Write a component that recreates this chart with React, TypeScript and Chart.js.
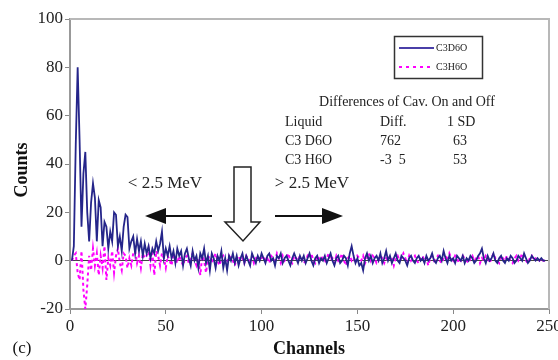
import React, { useEffect, useRef } from "react";
import { Chart, registerables } from "chart.js";

Chart.register(...registerables);

// Channel numbers start at 1 and advance by one per value.
const CHANNEL_START = 1;

const C3D6O: number[] = [
  0, 6, 48, 80, 50, 14, 36, 45, 20, 8,
  24, 32, 26, 8, 25, 22, 6, 16, 14, 5,
  12, 8, 20, 19, 6, 10, 4, 14, 19, 18,
  5, 8, 10, 3, 9, 4, 8, 2, 7, 3,
  6, 1, 5, 3, 8, 4, 7, 12, 1, 5,
  2, 6, 1, 4, -1, 5, 2, 4, -2, 3,
  5, 1, -2, 4, 0, 2, -3, 3, 1, 5,
  -1, 2, -4, 3, 1, -3, 2, 0, 4, -3,
  1, -4, 2, 0, 3, -1, 2, -2, 1, 3,
  -1, 2, 0, -2, 3, 1, -1, 2, 0, 3,
  1, -1, 2, 3, 0, 1, -2, 2, 1, 3,
  -1, 1, 2, 0, -2, 1, 3, 1, -1, 2,
  0, 2, -1, 1, 3, 0, -2, 1, 2, -1,
  1, 0, 2, -1, 1, 3, 0, -2, 1, 2,
  -1, 0, 2, 1, -2, 3, 6, 2, -1, 1,
  -2, -1, -4, 1, 3, 0, 2, -1, 1, 2,
  0, 3, -1, 1, 4, 0, 2, -1, 1, 3,
  0, -1, 2, 1, 0, -2, 1, 2, 0, -1,
  1, 2, 0, 1, -1, 2, 0, 1, 3, 0,
  -1, 1, 2, 0, 4, 1, -1, 2, 0, 1,
  -1, 2, 1, 0, 2, -1, 1, 0, 2, 1,
  -1, 0, 2, 3, 5, 1, -1, 2, 0, 1,
  3, 0, -1, 1, 2, 0, -1, 1, 0, 2,
  1, -1, 0, 2, 1, 0, 3, 1, -1, 0,
  2, 1, 0, 1, 0, 1, 0, 0,
];

const C3H6O: number[] = [
  0, 2, 3, -5, -8, 4, -12, -20, -10, 2,
  -4, 5, -2, 3, -6, 2, -3, 6, -8, 1,
  -2, 4, -5, 2, 5, -1, -4, 3, 2, -3,
  1, -2, 3, 4, -1, 2, -3, 3, 1, 2,
  5, -2, 3, -6, 4, 2, -2, 3, 1, -3,
  2, 0, -2, 3, 1, -1, 2, 0, -2, 1,
  2, -1, 1, 3, 0, -2, 1, -6, 2, 0,
  -5, 1, 2, -1, 1, 3, 0, -2, 1, 2,
  0, -1, 2, 1, 0, -2, 1, 2, 0, 1,
  -1, 2, 1, 0, 2, -1, 1, 2, 0, 1,
  2, 0, 1, -1, 2, 1, 0, 3, 1, -1,
  2, 0, 1, 3, 0, -1, 2, 1, 0, 2,
  1, -1, 0, 2, 1, 3, 0, -1, 2, 1,
  0, 2, -1, 1, 3, 0, 1, -1, 2, 0,
  1, 3, 0, -2, 1, 2, 0, 1, -1, 2,
  1, 0, 2, -1, 1, 3, 0, 2, 1, -1,
  0, 2, 1, -1, 1, 0, 2, 1, -2, 1,
  2, 0, 1, 3, 1, -1, 2, 0, 1, 2,
  0, -1, 1, 2, 0, 1, -2, 1, 2, 0,
  1, 2, 0, -1, 1, 2, 0, 3, 1, 0,
  2, 1, -1, 0, 2, 1, 0, -1, 1, 2,
  0, 1, 2, -1, 1, 0, 2, 1, -1, 1,
  3, 1, 0, -1, 2, 1, 0, 2, 1, 0,
  -1, 1, 2, 0, 1, 3, 1, 0, -1, 1,
  2, 0, 1, 1, 0, 1, 0, 0,
];

const X_MIN = 0;
const X_MAX = 250;
const X_STEP = 50;
const Y_MIN = -20;
const Y_MAX = 100;
const Y_STEP = 20;

const TABLE_TITLE = "Differences of Cav. On and Off";
const TABLE_HEADER = ["Liquid", "Diff.", "1 SD"];
const TABLE_ROWS = [
  ["C3 D6O", "762", "63"],
  ["C3 H6O", "-3  5", "53"],
];

const SERIF = "'Liberation Serif', 'Times New Roman', serif";

const toPoints = (vals: number[]) =>
  vals.map((v, i) => ({ x: CHANNEL_START + i, y: v }));

const decorPlugin = {
  id: "decor",
  afterDraw(chart: any) {
    const ctx = chart.ctx as CanvasRenderingContext2D;
    const a = chart.chartArea;
    ctx.save();
    // top & right frame
    ctx.strokeStyle = "#b8b8b8";
    ctx.lineWidth = 2;
    ctx.beginPath();
    ctx.moveTo(a.left, a.top);
    ctx.lineTo(a.right, a.top);
    ctx.lineTo(a.right, a.bottom);
    ctx.stroke();

    // legend box
    ctx.strokeStyle = "#333";
    ctx.lineWidth = 1.5;
    ctx.strokeRect(394.5, 36.5, 88, 42);
    ctx.lineWidth = 2;
    ctx.strokeStyle = "#4a3fa8";
    ctx.beginPath();
    ctx.moveTo(399, 48);
    ctx.lineTo(434, 48);
    ctx.stroke();
    ctx.strokeStyle = "#ff00ff";
    ctx.setLineDash([3, 4]);
    ctx.beginPath();
    ctx.moveTo(399, 67);
    ctx.lineTo(434, 67);
    ctx.stroke();
    ctx.setLineDash([]);
    ctx.fillStyle = "#222";
    ctx.font = `10px ${SERIF}`;
    ctx.textAlign = "left";
    ctx.textBaseline = "middle";
    ctx.fillText("C3D6O", 436, 48);
    ctx.fillText("C3H6O", 436, 67);

    // table
    ctx.font = `14px ${SERIF}`;
    ctx.textAlign = "center";
    ctx.fillText(TABLE_TITLE, 407, 102);
    const colX = [285, 380, 447];
    const rowY = [122, 141, 160];
    ctx.textAlign = "left";
    TABLE_HEADER.forEach((t, i) => ctx.fillText(t, colX[i], rowY[0]));
    TABLE_ROWS.forEach((row, r) =>
      row.forEach((t, i) =>
        ctx.fillText(t, colX[i] + (i === 2 ? 6 : 0), rowY[r + 1])
      )
    );

    // energy labels
    ctx.font = `17px ${SERIF}`;
    ctx.textAlign = "center";
    ctx.fillText("< 2.5 MeV", 165, 184);
    ctx.fillText("> 2.5 MeV", 312, 184);

    // arrows
    ctx.strokeStyle = "#111";
    ctx.fillStyle = "#111";
    ctx.lineWidth = 2;
    ctx.beginPath();
    ctx.moveTo(212, 216);
    ctx.lineTo(160, 216);
    ctx.stroke();
    ctx.beginPath();
    ctx.moveTo(145, 216);
    ctx.lineTo(166, 208);
    ctx.lineTo(166, 224);
    ctx.closePath();
    ctx.fill();
    ctx.beginPath();
    ctx.moveTo(275, 216);
    ctx.lineTo(328, 216);
    ctx.stroke();
    ctx.beginPath();
    ctx.moveTo(343, 216);
    ctx.lineTo(322, 208);
    ctx.lineTo(322, 224);
    ctx.closePath();
    ctx.fill();

    // hollow down arrow
    ctx.fillStyle = "#fff";
    ctx.strokeStyle = "#222";
    ctx.lineWidth = 1.5;
    ctx.beginPath();
    ctx.moveTo(234, 167);
    ctx.lineTo(251, 167);
    ctx.lineTo(251, 222);
    ctx.lineTo(260, 222);
    ctx.lineTo(243, 241);
    ctx.lineTo(225, 222);
    ctx.lineTo(234, 222);
    ctx.closePath();
    ctx.fill();
    ctx.stroke();

    // axis titles
    ctx.fillStyle = "#111";
    ctx.font = `bold 18px ${SERIF}`;
    ctx.textAlign = "center";
    ctx.textBaseline = "middle";
    ctx.fillText("Channels", 309, 349);
    ctx.font = `17px ${SERIF}`;
    ctx.fillText("(c)", 22, 349);
    ctx.save();
    ctx.translate(22, 170);
    ctx.rotate(-Math.PI / 2);
    ctx.font = `bold 18px ${SERIF}`;
    ctx.fillText("Counts", 0, 0);
    ctx.restore();
    ctx.restore();
  },
};

export default function App() {
  const ref = useRef<HTMLCanvasElement | null>(null);
  useEffect(() => {
    document.body.style.margin = "0";
    const canvas = ref.current;
    if (!canvas) return;
    const chart = new Chart(canvas, {
      type: "line",
      data: {
        datasets: [
          {
            label: "C3D6O",
            data: toPoints(C3D6O),
            borderColor: "#25258a",
            borderWidth: 1.8,
            pointRadius: 0,
            tension: 0,
            fill: false,
          },
          {
            label: "C3H6O",
            data: toPoints(C3H6O),
            borderColor: "#ff00ff",
            borderWidth: 2,
            borderDash: [3, 3],
            pointRadius: 0,
            tension: 0,
            fill: false,
          },
        ],
      },
      options: {
        responsive: false,
        animation: false,
        devicePixelRatio: 1,
        layout: { padding: { left: 0, top: 19, right: 9, bottom: 0 } },
        plugins: {
          legend: { display: false },
          tooltip: { enabled: false },
        },
        scales: {
          x: {
            type: "linear",
            min: X_MIN,
            max: X_MAX,
            afterFit: (s: any) => {
              s.height = 51;
              s.paddingLeft = 0;
              s.paddingRight = 0;
            },
            ticks: {
              stepSize: X_STEP,
              maxRotation: 0,
              padding: 2,
              color: "#222",
              font: { family: SERIF, size: 17 },
            },
            grid: {
              drawOnChartArea: false,
              drawTicks: true,
              tickLength: 5,
              tickColor: "#888",
            },
            border: { display: true, color: "#999", width: 2 },
          },
          y: {
            min: Y_MIN,
            max: Y_MAX,
            afterFit: (s: any) => {
              s.width = 70;
              s.paddingTop = 0;
              s.paddingBottom = 0;
            },
            ticks: {
              stepSize: Y_STEP,
              padding: 2,
              color: "#222",
              font: { family: SERIF, size: 17 },
            },
            grid: {
              drawTicks: true,
              tickLength: 5,
              tickColor: "#888",
              lineWidth: 1,
              color: (c: any) =>
                c.tick && c.tick.value === 0 ? "#444" : "rgba(0,0,0,0)",
            },
            border: { display: true, color: "#999", width: 2 },
          },
        },
      },
      plugins: [decorPlugin],
    });
    return () => chart.destroy();
  }, []);
  return (
    <div style={{ position: "fixed", left: 0, top: 0, width: 558, height: 360, background: "#fff" }}>
      <canvas ref={ref} width={558} height={360} style={{ width: 558, height: 360, display: "block" }} />
    </div>
  );
}
